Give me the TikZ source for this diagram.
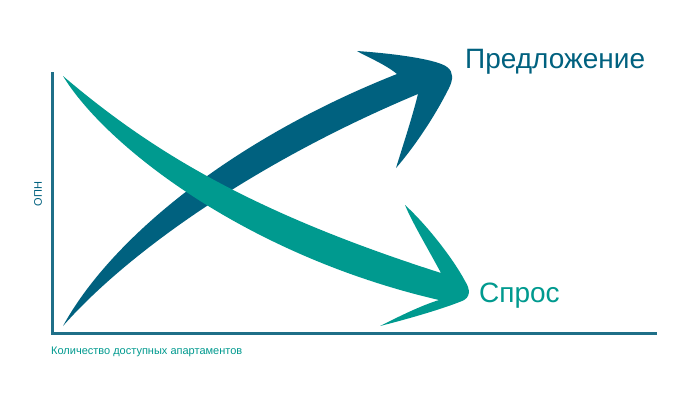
\documentclass[tikz,border=0pt]{standalone}
\usepackage{fontspec}
\setmainfont{Liberation Sans}
\definecolor{cblue}{HTML}{00617F}
\definecolor{cgreen}{HTML}{009A8F}
\definecolor{caxis}{HTML}{1F6F88}
\begin{document}
\begin{tikzpicture}[x=1pt,y=-1pt,
  axis/.style={draw=caxis,line width=3pt},
  lbl/.style={inner sep=0pt,anchor=west}]
\useasboundingbox[fill=white] (0,0) rectangle (690,400);
% axes
\coordinate (o) at (52,333);
\coordinate (ytop) at (52,72);
\coordinate (xend) at (657,333);
\draw[axis] (ytop) -- (o) -- (xend);
% blue arrow (supply)
\fill[cblue] (63,326) .. controls (110,240) and (230,140) .. (397,74)
  .. controls (385,64) and (365,56) .. (357,51)
  .. controls (400,54) and (438,60) .. (447,67)
  .. controls (454,72) and (453,80) .. (449,88)
  .. controls (432,122) and (410,152) .. (396,168)
  .. controls (404,142) and (412,118) .. (418,94)
  .. controls (260,160) and (130,250) .. (63,326) -- cycle;
% green arrow (demand)
\fill[cgreen] (63,76) .. controls (150,150) and (250,212) .. (441,273)
  .. controls (427,247) and (412,222) .. (405,205)
  .. controls (430,228) and (455,262) .. (465,281)
  .. controls (471,290) and (470,298) .. (462,301)
  .. controls (440,310) and (400,321) .. (380,326)
  .. controls (400,316) and (420,306) .. (439,300)
  .. controls (245,255) and (105,145) .. (63,76) -- cycle;
% labels
\node[lbl,text=cblue,font=\fontsize{28}{30}\selectfont] (sup) at (465,62) {Предложение};
\node[lbl,text=cgreen,font=\fontsize{28}{30}\selectfont] (dem) at (479,296) {Спрос};
\node[text=cblue,font=\fontsize{11}{13}\selectfont,rotate=90,inner sep=0pt] (yl) at (38,194) {ОПН};
\node[lbl,text=cgreen,font=\fontsize{11}{13}\selectfont] (xl) at (51,352) {Количество доступных апартаментов};
\end{tikzpicture}
\end{document}
